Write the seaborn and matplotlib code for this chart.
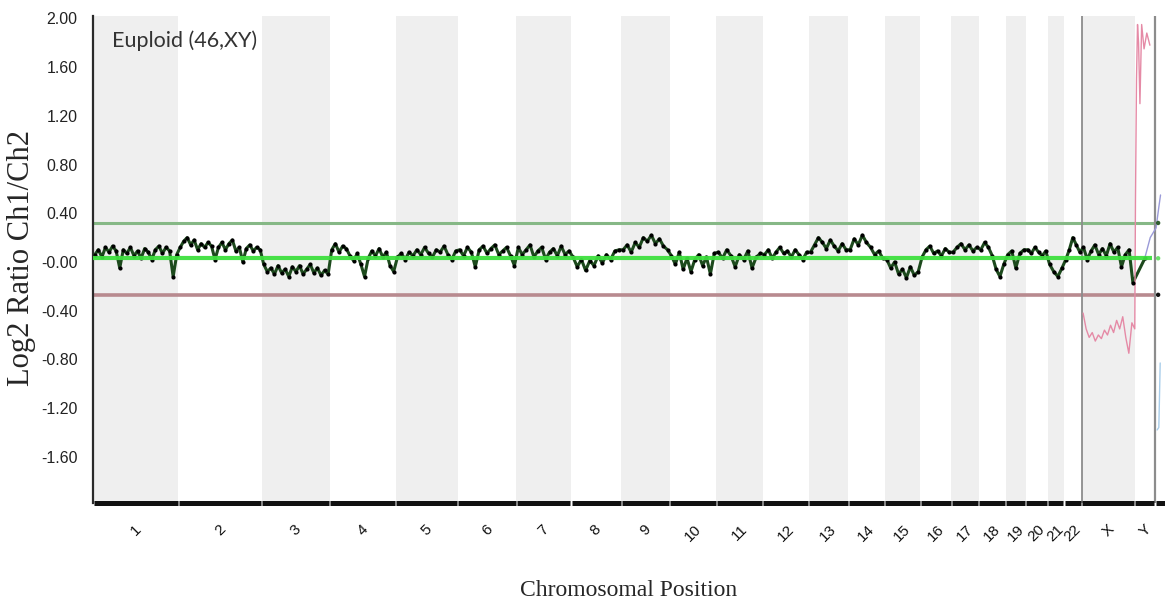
import numpy as np
import pandas as pd
import matplotlib
matplotlib.use("Agg")
import matplotlib.pyplot as plt
from matplotlib import font_manager as fm
import seaborn as sns

# ---------------- data ----------------
chrom_names = [str(i) for i in range(1, 23)] + ["X", "Y"]
chrom_lengths_mb = [249, 243, 198, 191, 181, 171, 159, 146, 141, 136, 135, 134,
                    115, 107, 103, 90, 81, 78, 59, 63, 48, 51, 155, 59]

chr1 = [0.06, 0.10, 0.04, 0.12, 0.08, 0.13, 0.09, -0.05, 0.10, 0.07, 0.12, 0.05,
        0.09, 0.03, 0.11, 0.08, 0.02, 0.10, 0.13, 0.07, 0.12, 0.09, -0.12, 0.06]
chr2 = [0.12, 0.17, 0.20, 0.14, 0.18, 0.10, 0.15, 0.12, 0.16, 0.13, 0.02, 0.12,
        0.16, 0.10, 0.15, 0.18, 0.09, 0.12, 0.00, 0.11, 0.14, 0.09, 0.12, 0.10]
chr3 = [-0.02, -0.08, -0.05, -0.10, -0.03, -0.09, -0.06, -0.12, -0.04, -0.08,
        -0.03, -0.10, -0.06, -0.02, -0.09, -0.05, -0.11, -0.07, -0.10]
chr4 = [0.10, 0.15, 0.08, 0.13, 0.11, 0.05, 0.01, 0.07, -0.02, -0.12, 0.03, 0.09,
        0.05, 0.11, 0.04, 0.08, -0.03, -0.08]
chr5 = [0.04, 0.07, 0.02, 0.08, 0.05, 0.10, 0.06, 0.12, 0.07, 0.04, 0.10, 0.08,
        0.13, 0.06, 0.02, 0.09]
chr6 = [0.10, 0.05, 0.12, 0.08, -0.04, 0.10, 0.13, 0.07, 0.11, 0.14, 0.06, 0.09,
        0.12, 0.05, -0.03]
chr7 = [0.12, 0.06, 0.10, 0.14, 0.04, 0.09, 0.12, 0.02, 0.08, 0.11, 0.05, 0.13,
        0.06, 0.09]
chr8 = [0.04, -0.04, 0.02, -0.07, 0.01, -0.03, 0.05, -0.01, 0.06, 0.02, 0.09, 0.10]
chr9 = [0.10, 0.14, 0.08, 0.16, 0.12, 0.20, 0.17, 0.22, 0.15, 0.19, 0.13, 0.10]
chr10 = [0.05, -0.02, 0.08, -0.06, 0.03, -0.08, 0.02, 0.06, -0.03, 0.04, -0.10, 0.07]
chr11 = [0.08, 0.03, 0.10, 0.05, -0.04, 0.06, 0.02, 0.09, -0.05, 0.04, 0.07]
chr12 = [0.06, 0.10, 0.03, 0.08, 0.12, 0.07, 0.09, 0.04, 0.10, 0.06, 0.02, 0.08]
chr13 = [0.08, 0.14, 0.20, 0.16, 0.11, 0.18, 0.13, 0.09, 0.15, 0.10]
chr14 = [0.10, 0.19, 0.14, 0.22, 0.16, 0.12, 0.06, 0.09, 0.03]
chr15 = [0.02, -0.05, 0.00, -0.10, -0.06, -0.13, -0.04, -0.11, -0.08]
chr16 = [0.04, 0.10, 0.13, 0.07, 0.09, 0.05, 0.11, 0.08]
chr17 = [0.08, 0.12, 0.15, 0.10, 0.14, 0.09, 0.12]
chr18 = [0.10, 0.16, 0.12, 0.05, -0.06, -0.12, -0.02]
chr19 = [0.06, 0.09, -0.05, 0.07, 0.10]
chr20 = [0.10, 0.07, 0.12, 0.08, 0.05, 0.09]
chr21 = [-0.02, -0.08, -0.12, -0.05]
chr22 = [0.02, 0.10, 0.20, 0.14, 0.08]
chrX = [0.12, 0.02, 0.09, 0.14, 0.06, 0.11, 0.05, 0.15, 0.08, 0.12, -0.04, 0.06,
        0.10, -0.17]
chrY = [0.03]

# pink reference trace on X (evenly along X) and on Y (offsets in Mb from Y start)
pink_x_vals = [-0.42, -0.55, -0.62, -0.58, -0.65, -0.60, -0.63, -0.56, -0.60, -0.52,
               -0.58, -0.48, -0.55, -0.45, -0.62, -0.75, -0.50]
pink_y_offsets = [0, 2, 5, 8, 11, 15, 20, 27, 35, 44]
pink_y_vals = [-0.55, 0.50, 1.50, 1.95, 1.80, 1.30, 1.95, 1.75, 1.88, 1.78]
blue_offsets = [29, 45, 62, 70, 75]
blue_vals = [0.03, 0.20, 0.28, 0.45, 0.55]
lightblue_offsets = [65, 70, 72, 74]
lightblue_vals = [-1.38, -1.36, -1.10, -0.83]
marker_offset = 68

upper_threshold = 0.32
baseline = 0.03
lower_threshold = -0.27

ytick_values = [2.0, 1.6, 1.2, 0.8, 0.4, 0.0, -0.4, -0.8, -1.2, -1.6]
ytick_labels = ["2.00", "1.60", "1.20", "0.80", "0.40", "-0.00", "-0.40", "-0.80",
                "-1.20", "-1.60"]

chrom_values = [chr1, chr2, chr3, chr4, chr5, chr6, chr7, chr8, chr9, chr10, chr11,
                chr12, chr13, chr14, chr15, chr16, chr17, chr18, chr19, chr20, chr21,
                chr22, chrX, chrY]

# ---------------- build tables ----------------
lengths = np.array(chrom_lengths_mb, dtype=float)
ends = np.cumsum(lengths)
starts = ends - lengths
centers = (starts + ends) / 2
genome_end = ends[-1]

rows = []
for name, s, L, vals in zip(chrom_names, starts, lengths, chrom_values):
    n = len(vals)
    for i, v in enumerate(vals):
        rows.append((name, s + (i + 0.5) / n * L, v))
trace = pd.DataFrame(rows, columns=["chrom", "pos", "log2"])

x_start, y_start = starts[22], starts[23]
pink_pos = list(x_start + (np.arange(len(pink_x_vals)) + 0.5) / len(pink_x_vals)
                * (lengths[22] - 4)) + [y_start + o for o in pink_y_offsets]
pink = pd.DataFrame({"pos": pink_pos, "log2": pink_x_vals + pink_y_vals})
blue = pd.DataFrame({"pos": [y_start + o for o in blue_offsets], "log2": blue_vals})
lblue = pd.DataFrame({"pos": [y_start + o for o in lightblue_offsets],
                      "log2": lightblue_vals})
dots = pd.DataFrame({"pos": [y_start + marker_offset] * 3,
                     "log2": [upper_threshold, baseline, lower_threshold],
                     "kind": ["up", "base", "low"]})

# ---------------- fonts ----------------
sns.set_style("white")


def has_font(name):
    try:
        fm.findfont(fm.FontProperties(family=name), fallback_to_default=False)
        return True
    except Exception:
        return False


narrow = "Liberation Sans Narrow" if has_font("Liberation Sans Narrow") else "Liberation Sans"
title_font = "Lato" if has_font("Lato") else narrow
serif = "Liberation Serif"
plt.rcParams["font.family"] = [narrow, "DejaVu Sans"]

# ---------------- figure ----------------
W, H = 1165, 607
fig = plt.figure(figsize=(W / 100, H / 100), dpi=100)
ax = fig.add_axes([93 / W, 1 - 503 / H, (W - 93) / W, (503 - 16) / H])
xmax = genome_end + 29
ymin, ymax = -1.98, 2.02
ax.set_xlim(0, xmax)
ax.set_ylim(ymin, ymax)

# alternating chromosome bands
for i, (s, e) in enumerate(zip(starts, ends)):
    if i % 2 == 0:
        ax.axvspan(s, e, color="#efefef", lw=0, zorder=0)

# threshold lines
ax.hlines(upper_threshold, 0, genome_end, color="#86b886", lw=2.2, zorder=2)
ax.hlines(lower_threshold, 0, genome_end, color="#b88a8f", lw=2.6, zorder=2)

# vertical markers
ax.axvline(x_start, color="#8c8c8c", lw=1.3, zorder=2)
ax.axvline(genome_end, color="#8c8c8c", lw=1.6, zorder=2)

# main trace
sns.lineplot(data=trace, x="pos", y="log2", estimator=None, sort=False,
             color="#1d4a1d", lw=2.2, ax=ax, zorder=3)
sns.scatterplot(data=trace, x="pos", y="log2", color="black", s=9, linewidth=0,
                ax=ax, zorder=4)

# baseline
ax.hlines(baseline, 0, genome_end - 8, color="#3ee03e", lw=3.0, alpha=0.95, zorder=5)

# sex chromosome traces
sns.lineplot(data=pink, x="pos", y="log2", estimator=None, sort=False,
             color="#e58aa6", lw=1.0, ax=ax, zorder=3)
sns.lineplot(data=blue, x="pos", y="log2", estimator=None, sort=False,
             color="#9a9ad8", lw=1.0, ax=ax, zorder=3)
sns.lineplot(data=lblue, x="pos", y="log2", estimator=None, sort=False,
             color="#a8cdea", lw=1.0, ax=ax, zorder=3)
sns.scatterplot(data=dots, x="pos", y="log2", hue="kind",
                palette={"up": "#2f5f2f", "base": "#6ae06a", "low": "#111111"},
                s=10, linewidth=0, legend=False, ax=ax, zorder=6)

# bottom axis: thick bar broken at chromosome boundaries
gap = 1.6
seg_starts = list(starts + gap) + [genome_end + gap]
seg_ends = list(ends - gap) + [xmax]
ax.hlines([ymin] * len(seg_starts), seg_starts, seg_ends, color="#111111", lw=3.6,
          clip_on=False, zorder=7)

# spines
for side in ["top", "right", "bottom"]:
    ax.spines[side].set_visible(False)
ax.spines["left"].set_color("#2a2a2a")
ax.spines["left"].set_linewidth(1.6)

# ticks
ax.set_yticks(ytick_values)
ax.set_yticklabels(ytick_labels, fontsize=11.5, color="#222222")
ax.tick_params(axis="y", direction="out", length=3, width=1.2, pad=8, color="#333333")
ax.set_xticks(centers)
ax.set_xticklabels(chrom_names, rotation=45, fontsize=11, color="#111111")
ax.tick_params(axis="x", length=0, pad=14)

ax.set_xlabel("Chromosomal Position", family=serif, fontsize=17, labelpad=26)
ax.set_ylabel("")
fig.text(22 / W, 1 - 258 / H, "Log2 Ratio Ch1/Ch2", family=serif, fontsize=22,
         rotation=90, ha="center", va="center")

ax.text((112 - 93) / (W - 93), (503 - 30) / (503 - 16), "Euploid (46,XY)",
        transform=ax.transAxes, fontsize=15.5, family=title_font, color="#333333",
        ha="left", va="top")

fig.savefig("out.png", dpi=100)
